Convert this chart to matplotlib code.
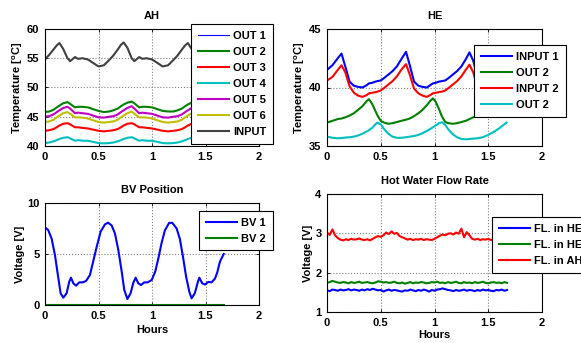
import matplotlib
matplotlib.use("Agg")
import matplotlib.pyplot as plt

# --- AH panel ---
hours_ah = [0, 0.04, 0.08, 0.11, 0.135, 0.17, 0.21, 0.235, 0.28, 0.31, 0.35, 0.40, 0.45, 0.50, 0.55,
            0.60, 0.64, 0.68, 0.71, 0.735, 0.77, 0.81, 0.835, 0.88, 0.91, 0.95, 1.00, 1.05, 1.10, 1.15,
            1.20, 1.24, 1.28, 1.31, 1.335, 1.37, 1.41, 1.435, 1.48, 1.51, 1.55, 1.60, 1.65, 1.67]
ah_input = [54.8, 55.6, 56.5, 57.2, 57.6, 56.6, 55.0, 54.5, 55.2, 54.9, 55.0, 54.8, 54.2, 53.6, 53.8,
            54.7, 55.5, 56.5, 57.3, 57.7, 56.8, 55.0, 54.5, 55.2, 54.9, 55.0, 54.8, 54.2, 53.6, 53.8,
            54.7, 55.5, 56.5, 57.2, 57.6, 56.6, 55.0, 54.5, 55.2, 54.9, 55.0, 54.8, 54.2, 54.0]
ah_out1 = []  # no readings from this sensor
ah_out2 = [45.8, 45.9, 46.2, 46.6, 46.9, 47.3, 47.5, 47.2, 46.6, 46.7, 46.7, 46.6, 46.3, 46.0, 45.8,
           45.9, 46.1, 46.4, 46.8, 47.1, 47.4, 47.6, 47.3, 46.6, 46.7, 46.7, 46.6, 46.3, 46.0, 45.9,
           45.9, 46.1, 46.4, 46.8, 47.1, 47.4, 47.6, 47.3, 46.6, 46.7, 46.7, 46.6, 46.3, 46.2]
ah_out3 = [42.6, 42.7, 42.9, 43.2, 43.5, 43.8, 43.9, 43.7, 43.2, 43.2, 43.1, 43.0, 42.8, 42.6, 42.5,
           42.6, 42.7, 42.9, 43.2, 43.5, 43.8, 43.9, 43.7, 43.2, 43.2, 43.1, 43.0, 42.8, 42.6, 42.5,
           42.6, 42.7, 42.9, 43.2, 43.5, 43.8, 43.9, 43.7, 43.2, 43.2, 43.1, 43.0, 42.8, 42.7]
ah_out4 = [40.5, 40.6, 40.8, 41.0, 41.2, 41.4, 41.5, 41.3, 40.9, 41.0, 40.9, 40.9, 40.7, 40.5, 40.45,
           40.5, 40.6, 40.8, 41.0, 41.2, 41.4, 41.5, 41.3, 40.9, 41.0, 40.9, 40.9, 40.7, 40.5, 40.45,
           40.5, 40.6, 40.8, 41.0, 41.2, 41.4, 41.5, 41.3, 40.9, 41.0, 40.9, 40.9, 40.7, 40.6]
ah_out5 = [45.0, 45.1, 45.4, 45.8, 46.1, 46.5, 46.7, 46.4, 45.6, 45.7, 45.6, 45.5, 45.2, 44.9, 44.85,
           45.0, 45.1, 45.4, 45.8, 46.1, 46.5, 46.8, 46.4, 45.6, 45.7, 45.6, 45.5, 45.2, 44.9, 44.85,
           45.0, 45.1, 45.4, 45.8, 46.1, 46.5, 46.7, 46.4, 45.6, 45.7, 45.6, 45.5, 45.2, 45.1]
ah_out6 = [44.1, 44.2, 44.5, 44.9, 45.2, 45.6, 45.8, 45.5, 44.9, 44.9, 44.85, 44.7, 44.4, 44.1, 44.0,
           44.1, 44.2, 44.5, 44.9, 45.2, 45.6, 45.9, 45.5, 44.9, 44.9, 44.85, 44.7, 44.4, 44.1, 44.0,
           44.1, 44.2, 44.5, 44.9, 45.2, 45.6, 45.8, 45.5, 44.9, 44.9, 44.85, 44.7, 44.4, 44.3]

# --- HE panel ---
hours_he = [0, 0.05, 0.10, 0.135, 0.17, 0.21, 0.25, 0.29, 0.33, 0.37, 0.39, 0.42, 0.45, 0.47, 0.50,
            0.53, 0.57, 0.61, 0.65, 0.69, 0.735, 0.77, 0.81, 0.85, 0.89, 0.93, 0.96, 0.985, 1.01, 1.04,
            1.07, 1.10, 1.13, 1.17, 1.21, 1.25, 1.29, 1.325, 1.36, 1.40, 1.45, 1.50, 1.55, 1.60, 1.67]
he_input1 = [41.5, 41.9, 42.5, 42.9, 41.8, 40.5, 40.15, 40.05, 40.0, 40.2, 40.35, 40.4, 40.5, 40.55, 40.6,
             40.8, 41.1, 41.4, 41.8, 42.4, 43.05, 41.9, 40.5, 40.15, 40.05, 40.0, 40.2, 40.35, 40.4, 40.5,
             40.55, 40.6, 40.8, 41.1, 41.4, 41.8, 42.4, 43.0, 42.3, 40.9, 40.2, 40.0, 40.1, 40.4, 40.6]
he_out2a = [37.0, 37.15, 37.3, 37.35, 37.45, 37.6, 37.8, 38.1, 38.4, 38.85, 39.0, 38.6, 38.0, 37.6, 37.15,
            37.0, 36.9, 36.95, 37.05, 37.15, 37.25, 37.35, 37.55, 37.8, 38.1, 38.5, 38.85, 39.07, 38.8, 38.2,
            37.5, 37.05, 36.95, 36.9, 36.95, 37.05, 37.15, 37.3, 37.45, 37.6, 37.85, 38.1, 38.5, 38.9, 39.0]
he_input2 = [40.6, 40.9, 41.5, 41.9, 41.3, 40.1, 39.55, 39.3, 39.2, 39.35, 39.5, 39.55, 39.6, 39.65, 39.75,
             39.95, 40.25, 40.55, 40.95, 41.5, 42.0, 41.1, 39.9, 39.5, 39.3, 39.2, 39.35, 39.5, 39.55, 39.6,
             39.65, 39.75, 39.95, 40.25, 40.55, 40.95, 41.5, 41.95, 41.3, 40.0, 39.4, 39.2, 39.3, 39.5, 39.6]
he_out2b = [35.8, 35.7, 35.66, 35.68, 35.72, 35.75, 35.8, 35.9, 36.05, 36.25, 36.35, 36.55, 36.85, 37.0, 36.85,
            36.45, 36.05, 35.8, 35.7, 35.7, 35.75, 35.8, 35.85, 35.95, 36.1, 36.3, 36.45, 36.6, 36.75, 36.95,
            37.03, 36.8, 36.4, 36.0, 35.75, 35.6, 35.57, 35.6, 35.63, 35.66, 35.75, 35.95, 36.2, 36.5, 37.0]

# --- BV panel ---
hours_bv = [0, 0.03, 0.062, 0.093, 0.125, 0.146, 0.171, 0.202, 0.227, 0.243, 0.265, 0.29, 0.32, 0.352,
            0.383, 0.42, 0.45, 0.483, 0.52, 0.56, 0.59, 0.623, 0.654, 0.685, 0.717, 0.741, 0.77, 0.80,
            0.826, 0.847, 0.872, 0.897, 0.928, 0.96, 0.997, 1.03, 1.06, 1.09, 1.12, 1.16, 1.19, 1.23,
            1.26, 1.29, 1.32, 1.349, 1.37, 1.40, 1.427, 1.442, 1.47, 1.495, 1.526, 1.557, 1.589, 1.61,
            1.635, 1.67]
bv1 = [7.6, 7.35, 6.5, 4.9, 2.6, 1.15, 0.72, 1.15, 2.3, 2.68, 2.12, 1.9, 2.22, 2.22,
       2.35, 2.94, 4.25, 5.7, 7.2, 7.9, 8.07, 7.8, 7.0, 5.4, 3.27, 1.47, 0.59, 1.15,
       2.2, 2.68, 2.12, 1.96, 2.22, 2.22, 2.45, 3.27, 4.6, 6.1, 7.3, 8.05, 8.05, 7.5,
       6.5, 4.7, 2.7, 1.3, 0.65, 1.15, 2.2, 2.68, 2.12, 2.0, 2.26, 2.22, 2.6, 3.2,
       4.25, 5.0]
hours_bv2 = [0, 1.67]
bv2 = [0, 0]

# --- Hot water flow panel ---
hours_fl = [0.000, 0.025, 0.050, 0.075, 0.100, 0.125, 0.150, 0.175, 0.200, 0.225, 0.250, 0.275,
            0.300, 0.325, 0.350, 0.375, 0.400, 0.425, 0.450, 0.475, 0.500, 0.525, 0.550, 0.575,
            0.600, 0.625, 0.650, 0.675, 0.700, 0.725, 0.750, 0.775, 0.800, 0.825, 0.850, 0.875,
            0.900, 0.925, 0.950, 0.975, 1.000, 1.025, 1.050, 1.075, 1.100, 1.125, 1.150, 1.175,
            1.200, 1.225, 1.250, 1.275, 1.300, 1.325, 1.350, 1.375, 1.400, 1.425, 1.450, 1.475,
            1.500, 1.525, 1.550, 1.575, 1.600, 1.625, 1.650, 1.675]
fl_he1 = [1.55, 1.53, 1.57, 1.56, 1.54, 1.57, 1.55, 1.56, 1.58, 1.55, 1.57, 1.56,
          1.54, 1.57, 1.55, 1.58, 1.56, 1.59, 1.57, 1.55, 1.56, 1.52, 1.55, 1.57,
          1.54, 1.56, 1.55, 1.53, 1.52, 1.55, 1.54, 1.57, 1.55, 1.53, 1.56, 1.54,
          1.57, 1.55, 1.52, 1.56, 1.54, 1.57, 1.58, 1.60, 1.58, 1.56, 1.55, 1.53,
          1.56, 1.54, 1.55, 1.57, 1.54, 1.56, 1.55, 1.53, 1.56, 1.54, 1.57, 1.55,
          1.56, 1.54, 1.53, 1.56, 1.55, 1.57, 1.54, 1.56]
fl_he2 = [1.74, 1.76, 1.79, 1.77, 1.75, 1.74, 1.76, 1.75, 1.73, 1.76, 1.74, 1.75,
          1.77, 1.74, 1.75, 1.76, 1.74, 1.73, 1.75, 1.78, 1.77, 1.75, 1.76, 1.74,
          1.75, 1.77, 1.74, 1.73, 1.75, 1.72, 1.74, 1.76, 1.73, 1.75, 1.74, 1.76,
          1.75, 1.73, 1.74, 1.76, 1.75, 1.77, 1.74, 1.75, 1.73, 1.76, 1.74, 1.75,
          1.77, 1.74, 1.73, 1.76, 1.74, 1.75, 1.73, 1.76, 1.74, 1.75, 1.77, 1.74,
          1.73, 1.75, 1.76, 1.74, 1.75, 1.73, 1.76, 1.74]
fl_ah = [3.02, 2.96, 3.10, 2.95, 2.88, 2.84, 2.82, 2.85, 2.83, 2.86, 2.84, 2.85,
         2.87, 2.84, 2.83, 2.85, 2.82, 2.86, 2.90, 2.93, 2.91, 2.95, 3.02, 2.98,
         3.05, 2.99, 3.01, 2.93, 2.90, 2.87, 2.84, 2.86, 2.83, 2.85, 2.84, 2.86,
         2.83, 2.85, 2.84, 2.83, 2.86, 2.90, 2.94, 2.97, 2.95, 2.99, 3.00, 2.97,
         3.02, 2.99, 3.12, 2.90, 3.03, 2.95, 2.86, 2.84, 2.86, 2.83, 2.85, 2.84,
         2.86, 2.83, 2.85, 2.84, 2.86, 2.84, 2.85, 2.84]

# matlab-like colours
BLUE = (0, 0, 1)
GREEN = (0, 0.5, 0)
RED = (1, 0, 0)
CYAN = (0, 0.75, 0.75)
MAGENTA = (0.75, 0, 0.75)
OLIVE = (0.75, 0.75, 0)
DGRAY = (0.25, 0.25, 0.25)

FS = 8
plt.rcParams['font.family'] = ['Liberation Sans', 'DejaVu Sans']
plt.rcParams['font.weight'] = 'bold'
plt.rcParams['axes.labelweight'] = 'bold'
plt.rcParams['axes.titleweight'] = 'bold'
plt.rcParams['font.size'] = FS
plt.rcParams['mathtext.fontset'] = 'custom'
plt.rcParams['mathtext.rm'] = 'Liberation Sans:bold'
plt.rcParams['mathtext.it'] = 'Liberation Sans:bold'
plt.rcParams['mathtext.bf'] = 'Liberation Sans:bold'

W, H = 581, 343
fig = plt.figure(figsize=(W / 100, H / 100), dpi=100)


def make_axes(l, r, t, b):
    ax = fig.add_axes([l / W, 1 - b / H, (r - l) / W, (b - t) / H])
    ax.grid(True, linestyle=':', color=(0.5, 0.5, 0.5), linewidth=0.8)
    ax.tick_params(direction='in', length=2.5, width=0.6, top=True, right=True, pad=4,
                   labelsize=FS)
    for s in ax.spines.values():
        s.set_linewidth(0.8)
    ax.set_xlim(0, 2)
    ax.set_xticks([0, 0.5, 1, 1.5, 2])
    ax.set_xticklabels(['0', '0.5', '1', '1.5', '2'])
    return ax


def finish(ax):
    for lab in ax.get_xticklabels() + ax.get_yticklabels():
        lab.set_fontweight('bold')


def add_legend(ax, x, y):
    leg = ax.legend(loc='upper left', bbox_to_anchor=(x / W, 1 - y / H),
                    bbox_transform=fig.transFigure, fancybox=False, framealpha=1,
                    edgecolor='black', handlelength=2.8, handletextpad=0.4,
                    labelspacing=0.55, borderpad=0.6, borderaxespad=0,
                    prop={'size': FS, 'weight': 'bold'})
    leg.get_frame().set_linewidth(0.8)
    return leg


lw = 1.5

# AH
ax1 = make_axes(45, 259, 29, 146)
ax1.plot(hours_ah[:len(ah_out1)], ah_out1, color=BLUE, lw=0.8, label='OUT 1')
ax1.plot(hours_ah, ah_out2, color=GREEN, lw=lw, label='OUT 2')
ax1.plot(hours_ah, ah_out3, color=RED, lw=lw, label='OUT 3')
ax1.plot(hours_ah, ah_out4, color=CYAN, lw=lw, label='OUT 4')
ax1.plot(hours_ah, ah_out5, color=MAGENTA, lw=lw, label='OUT 5')
ax1.plot(hours_ah, ah_out6, color=OLIVE, lw=lw, label='OUT 6')
ax1.plot(hours_ah, ah_input, color=DGRAY, lw=lw, label='INPUT')
ax1.set_ylim(40, 60)
ax1.set_yticks([40, 45, 50, 55, 60])
ax1.set_title('AH', fontsize=FS, pad=7.5)
ax1.set_ylabel(r'Temperature [$^o$C]', labelpad=1.5)
add_legend(ax1, 191, 24)
finish(ax1)

# HE
ax2 = make_axes(327, 542, 29, 146)
ax2.plot(hours_he, he_input1, color=BLUE, lw=lw, label='INPUT 1')
ax2.plot(hours_he, he_out2a, color=GREEN, lw=lw, label='OUT 2')
ax2.plot(hours_he, he_input2, color=RED, lw=lw, label='INPUT 2')
ax2.plot(hours_he, he_out2b, color=CYAN, lw=lw, label='OUT 2')
ax2.set_ylim(35, 45)
ax2.set_yticks([35, 40, 45])
ax2.set_title('HE', fontsize=FS, pad=7.5)
ax2.set_ylabel(r'Temperature [$^o$C]', labelpad=1.5)
add_legend(ax2, 474, 45)
finish(ax2)

# BV
ax3 = make_axes(45, 259, 203, 305)
ax3.plot(hours_bv, bv1, color=BLUE, lw=lw, label='BV 1')
ax3.plot(hours_bv2, bv2, color=GREEN, lw=lw, label='BV 2')
ax3.set_ylim(0, 10)
ax3.set_yticks([0, 5, 10])
ax3.set_title('BV Position', fontsize=FS, pad=7.5)
ax3.set_ylabel('Voltage [V]', labelpad=1.5)
ax3.set_xlabel('Hours', labelpad=3)
add_legend(ax3, 199, 211)
finish(ax3)

# Flow rate
ax4 = make_axes(327, 542, 194, 312)
ax4.plot(hours_fl, fl_he1, color=BLUE, lw=lw, label='FL. in HE 1')
ax4.plot(hours_fl, fl_he2, color=GREEN, lw=lw, label='FL. in HE 2')
ax4.plot(hours_fl, fl_ah, color=RED, lw=lw, label='FL. in AH')
ax4.set_ylim(1, 4)
ax4.set_yticks([1, 2, 3, 4])
ax4.set_title('Hot Water Flow Rate', fontsize=FS, pad=7.5)
ax4.set_ylabel('Voltage [V]', labelpad=1.5)
ax4.set_xlabel('Hours', labelpad=2)
add_legend(ax4, 492, 217)
finish(ax4)

fig.savefig('out.png', dpi=100)
